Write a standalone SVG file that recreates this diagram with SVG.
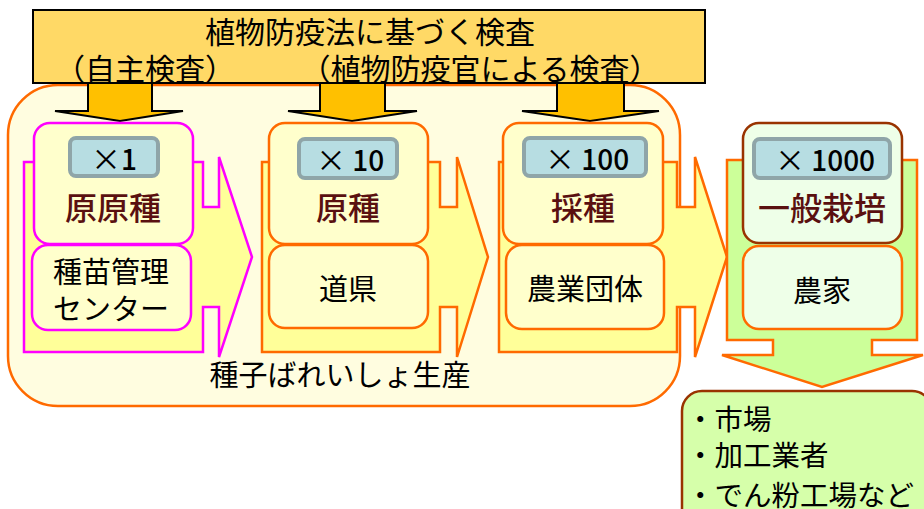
<svg xmlns="http://www.w3.org/2000/svg" width="924" height="509" viewBox="0 0 924 509">
<style>
text{font-family:"Noto Sans CJK JP","Noto Sans",sans-serif;}
.t30{font-size:30px;fill:#000;}
.lbl{font-size:32px;fill:#5A1010;text-anchor:middle;font-weight:500;}
.sub{font-size:29px;fill:#000;text-anchor:middle;}
.bdg{font-size:28px;fill:#000;text-anchor:middle;font-weight:500;}
.x{font-size:30px;font-weight:400;}
.badge{fill:#B7DDE2;stroke:#8FA5A8;stroke-width:4;}
.dn{fill:#FFC000;stroke:#000;stroke-width:2;stroke-linejoin:miter;}
.co{fill:#FFFF99;stroke-width:2.5;}
.ib{fill:#FFFFCC;stroke-width:2.5;}
.gb{fill:#EEFFE8;stroke-width:2.5;}
.li{font-size:28.5px;fill:#000;}
</style>
<g id="background">
<rect x="8" y="85" width="672" height="321" rx="50" fill="#FFFDE0" stroke="#FF6A00" stroke-width="2.5"/>
</g>
<g id="banner">
<rect x="33" y="10" width="672" height="73" fill="#FFD966" stroke="#000" stroke-width="2"/>
<text class="t30" x="370" y="43" text-anchor="middle">植物防疫法に基づく検査</text>
<text class="t30" x="145" y="80" text-anchor="middle">（自主検査）</text>
<text class="t30" x="480" y="80" text-anchor="middle">（植物防疫官による検査）</text>
</g>
<g id="connectors">
<path class="dn" d="M88,83 V111 H55 L120,121 L183,111 H152 V83 Z"/>
<path class="dn" d="M320,83 V111 H288 L352,121 L417,111 H385 V83 Z"/>
<path class="dn" d="M557,83 V111 H522 L590,121 L659,111 H624 V83 Z"/>
<path class="co" stroke="#FF00FF" d="M24,162 H203 V207 H219 V157 L252,257 L219,357 V307 H203 V352 H24 Z"/>
<path class="co" stroke="#FF6A00" d="M262,162 H440 V207 H457 V157 L488,257 L457,357 V307 H440 V352 H262 Z"/>
<path class="co" stroke="#FF6A00" d="M499,162 H677 V207 H695 V157 L727,257 L695,357 V307 H677 V352 H499 Z"/>
<path class="co" style="fill:#CCFF99" stroke="#FF6A00" d="M727,160 H917 V340 H872 V355 H923 L822,387 L722,355 H773 V340 H727 Z"/>
</g>
<g id="node-gengenshu">
<rect class="ib" stroke="#FF00FF" x="34" y="123" width="159" height="121" rx="16"/>
<rect class="badge" x="70" y="138" width="88" height="38" rx="6"/>
<text class="bdg" x="114" y="170"><tspan class="x">×</tspan>1</text>
<text class="lbl" x="113" y="220">原原種</text>
</g>
<g id="node-center">
<rect class="ib" stroke="#FF00FF" x="32" y="245" width="159" height="85" rx="16"/>
<text class="sub" x="111" y="283">種苗管理</text>
<text class="sub" x="111" y="320">センター</text>
</g>
<g id="node-genshu">
<rect class="ib" stroke="#FF6A00" x="269" y="123" width="159" height="121" rx="16"/>
<rect class="badge" x="299" y="139" width="98" height="39" rx="6"/>
<text class="bdg" x="350" y="171"><tspan class="x">×</tspan> 10</text>
<text class="lbl" x="348" y="220">原種</text>
</g>
<g id="node-doken">
<rect class="ib" stroke="#FF6A00" x="269" y="245" width="159" height="83" rx="16"/>
<text class="sub" x="348" y="300">道県</text>
</g>
<g id="node-saishu">
<rect class="ib" stroke="#FF6A00" x="503" y="123" width="160" height="121" rx="16"/>
<rect class="badge" x="524" y="138" width="122" height="38" rx="6"/>
<text class="bdg" x="587" y="170"><tspan class="x">×</tspan> 100</text>
<text class="lbl" x="583" y="220">採種</text>
</g>
<g id="node-nogyodantai">
<rect class="ib" stroke="#FF6A00" x="506" y="245" width="158" height="84" rx="16"/>
<text class="sub" x="585" y="300">農業団体</text>
</g>
<g id="node-ippan">
<rect class="gb" stroke="#993300" x="743" y="123" width="159" height="120" rx="16"/>
<rect class="badge" x="754" y="139" width="136" height="39" rx="6"/>
<text class="bdg" x="825" y="171"><tspan class="x">×</tspan> 1000</text>
<text class="lbl" x="822" y="220">一般栽培</text>
</g>
<g id="node-noka">
<rect class="gb" stroke="#FF6A00" x="743" y="246" width="159" height="83" rx="16"/>
<text class="sub" x="822" y="302">農家</text>
</g>
<g id="label-seisan">
<text class="t30" x="340" y="386" text-anchor="middle" style="font-size:29px">種子ばれいしょ生産</text>
</g>
<g id="node-market">
<rect x="682" y="391" width="250" height="140" rx="20" fill="#D6FFAA" stroke="#993300" stroke-width="2.5"/>
<text class="li" x="686" y="430">・市場</text>
<text class="li" x="686" y="466">・加工業者</text>
<text class="li" x="686" y="506">・でん粉工場など</text>
</g>
</svg>
